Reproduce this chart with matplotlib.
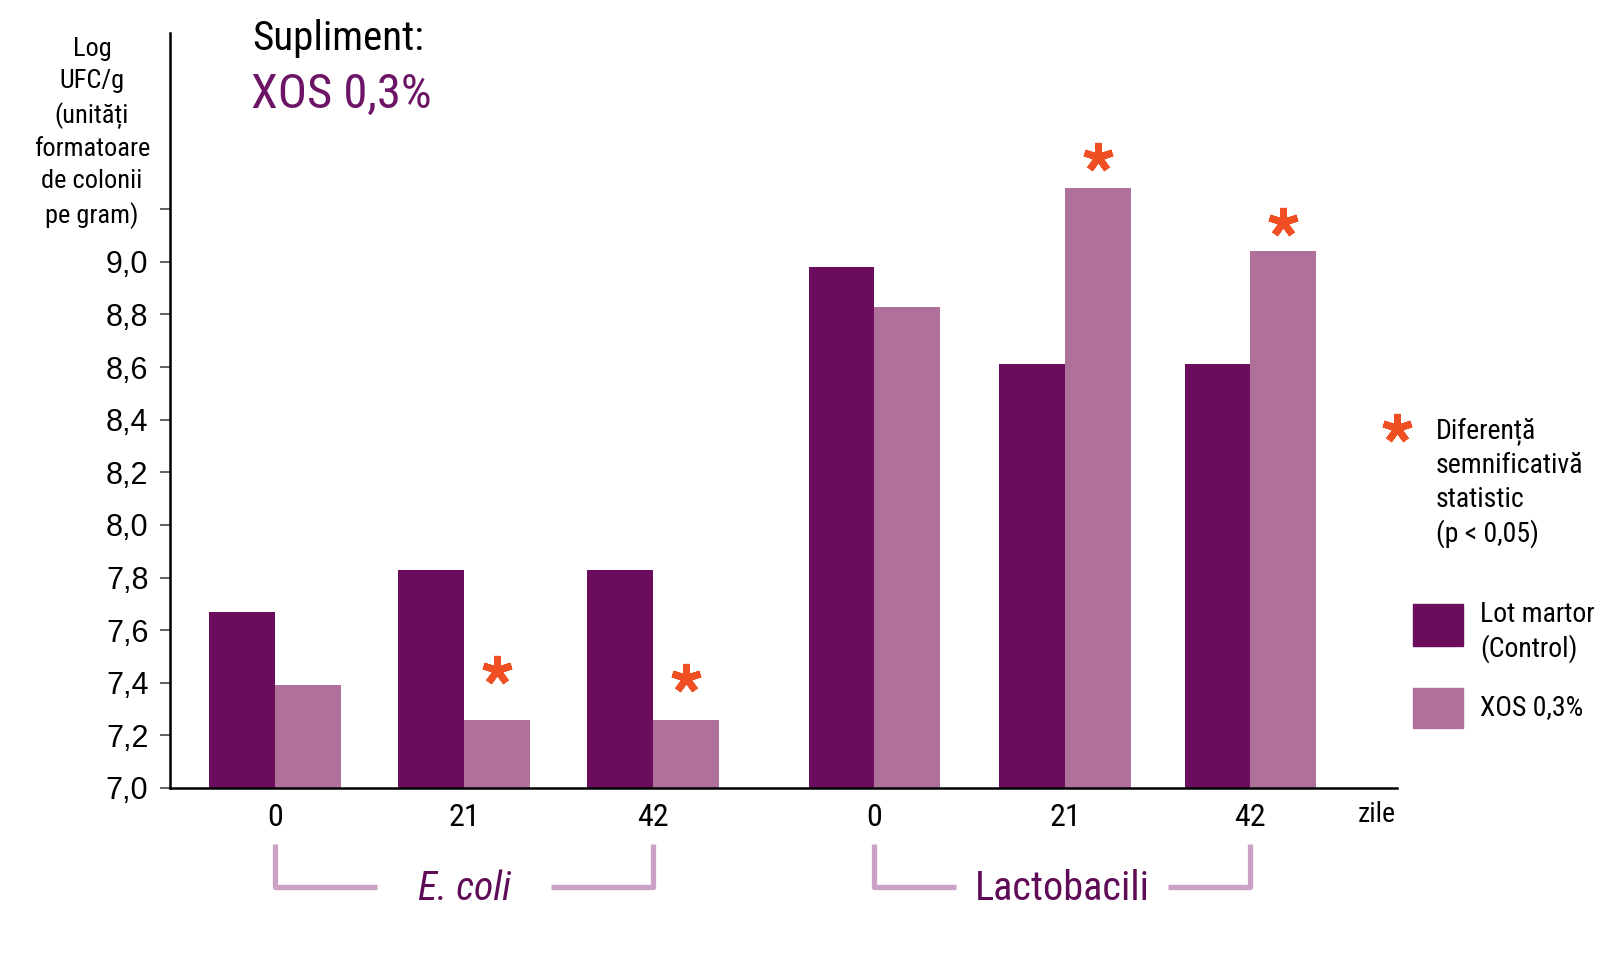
import matplotlib
matplotlib.use("Agg")
import matplotlib.pyplot as plt
from matplotlib.patches import Rectangle

plt.rcParams['font.family'] = ['Roboto Condensed', 'Archivo Narrow', 'DejaVu Sans']

# ---------------------------------------------------------------
# data
# ---------------------------------------------------------------
days = ["0", "21", "42", "0", "21", "42"]
groups = ["E. coli", "Lactobacili"]
control = [7.67, 7.83, 7.83, 8.98, 8.61, 8.61]
xos = [7.39, 7.26, 7.26, 8.83, 9.28, 9.04]
significant = [False, True, True, False, True, True]
yticks = [7.0, 7.2, 7.4, 7.6, 7.8, 8.0, 8.2, 8.4, 8.6, 8.8, 9.0, 9.2]
ytick_labels = ["7,0", "7,2", "7,4", "7,6", "7,8", "8,0", "8,2", "8,4",
                "8,6", "8,8", "9,0", ""]

# layout
pos = [0, 1, 2, 3.17, 4.18, 5.16]
w = 0.347
star_off = [0.0, 0.19, 0.16, 0.0, 0.12, 0.11]

C_CTRL = "#6b0d5c"
C_XOS = "#af7099"
C_BRACKET = "#cba2c5"
C_STAR = "#f04e23"
C_PURPLE = "#6e1466"

W, H = 1624, 969
fig = plt.figure(figsize=(W / 100, H / 100), dpi=100)
fig.patch.set_facecolor("white")

def fx(px):
    return px / W

def fy(py):
    return 1 - py / H

ax = fig.add_axes([fx(170), fy(788), fx(1397) - fx(170), fy(33) - fy(788)])

ax.bar([p - w / 2 for p in pos], control, width=w, color=C_CTRL)
ax.bar([p + w / 2 for p in pos], xos, width=w, color=C_XOS)

for p, v, s, off in zip(pos, xos, significant, star_off):
    if s:
        ax.plot(p + w / 2, v + off, marker=(5, 2, 0), markersize=21,
                mew=5, color=C_STAR, clip_on=False)

ax.set_ylim(7.0, 9.87)
ax.set_xlim(-0.556, 5.937)
ax.set_yticks(yticks)
ax.set_yticklabels(ytick_labels, family="Liberation Sans", fontsize=22)
ax.tick_params(axis="y", length=7.5, width=1.3, color="#555555", pad=8)
ax.set_xticks(pos)
ax.set_xticklabels(days, fontsize=23)
ax.tick_params(axis="x", length=0, pad=11)

for side in ["top", "right"]:
    ax.spines[side].set_visible(False)
for side in ["left", "bottom"]:
    ax.spines[side].set_linewidth(1.8)
    ax.spines[side].set_color("black")

# "zile" label at the end of the x axis
fig.text(fx(1377), fy(815), "zile", fontsize=20, ha="center", va="center")

# group brackets under the day labels
tr = ax.get_xaxis_transform()
def ay(py):
    return (788 - py) / (788 - 33)

y_top, y_bot = ay(844), ay(887)
gaps = [0.46, 0.56]
sizes = [28.5, 29]
for i, name in enumerate(groups):
    x0, x1 = pos[3 * i], pos[3 * i + 2]
    xc = (x0 + x1) / 2
    g = gaps[i]
    ax.plot([x0, x0, xc - g], [y_top, y_bot, y_bot], color=C_BRACKET,
            lw=3.8, transform=tr, clip_on=False, solid_capstyle="butt")
    ax.plot([xc + g, x1, x1], [y_bot, y_bot, y_top], color=C_BRACKET,
            lw=3.8, transform=tr, clip_on=False, solid_capstyle="butt")
    ax.text(xc, ay(889), name, transform=tr, ha="center", va="center",
            fontsize=sizes[i], color="#5f0b57",
            style="italic" if i == 0 else "normal")

# y axis caption
fig.text(fx(92), fy(133),
         "Log\nUFC/g\n(unități\nformatoare\nde colonii\npe gram)",
         ha="center", va="center", fontsize=19, linespacing=1.43)

# title
fig.text(fx(252), fy(38), "Supliment:", fontsize=29.5, ha="left", va="center")
fig.text(fx(251), fy(95), "XOS 0,3%", fontsize=35, ha="left", va="center",
         color=C_PURPLE)

# legend: significance
fig.lines.append(plt.Line2D([fx(1397)], [fy(428)], marker=(5, 2, 0),
                            markersize=21, mew=5, color=C_STAR,
                            transform=fig.transFigure))
fig.text(fx(1436), fy(483), "Diferență\nsemnificativă\nstatistic\n(p < 0,05)",
         fontsize=20, ha="left", va="center", linespacing=1.3)

# legend: series
fig.patches.append(Rectangle((fx(1413), fy(646)), fx(50), 42 / H,
                             color=C_CTRL, transform=fig.transFigure))
fig.patches.append(Rectangle((fx(1413), fy(728)), fx(50), 40 / H,
                             color=C_XOS, transform=fig.transFigure))
fig.text(fx(1480), fy(632), "Lot martor\n(Control)", fontsize=20,
         ha="left", va="center", linespacing=1.25)
fig.text(fx(1480), fy(708), "XOS 0,3%", fontsize=20, ha="left", va="center")

fig.savefig("out.png", dpi=100)
